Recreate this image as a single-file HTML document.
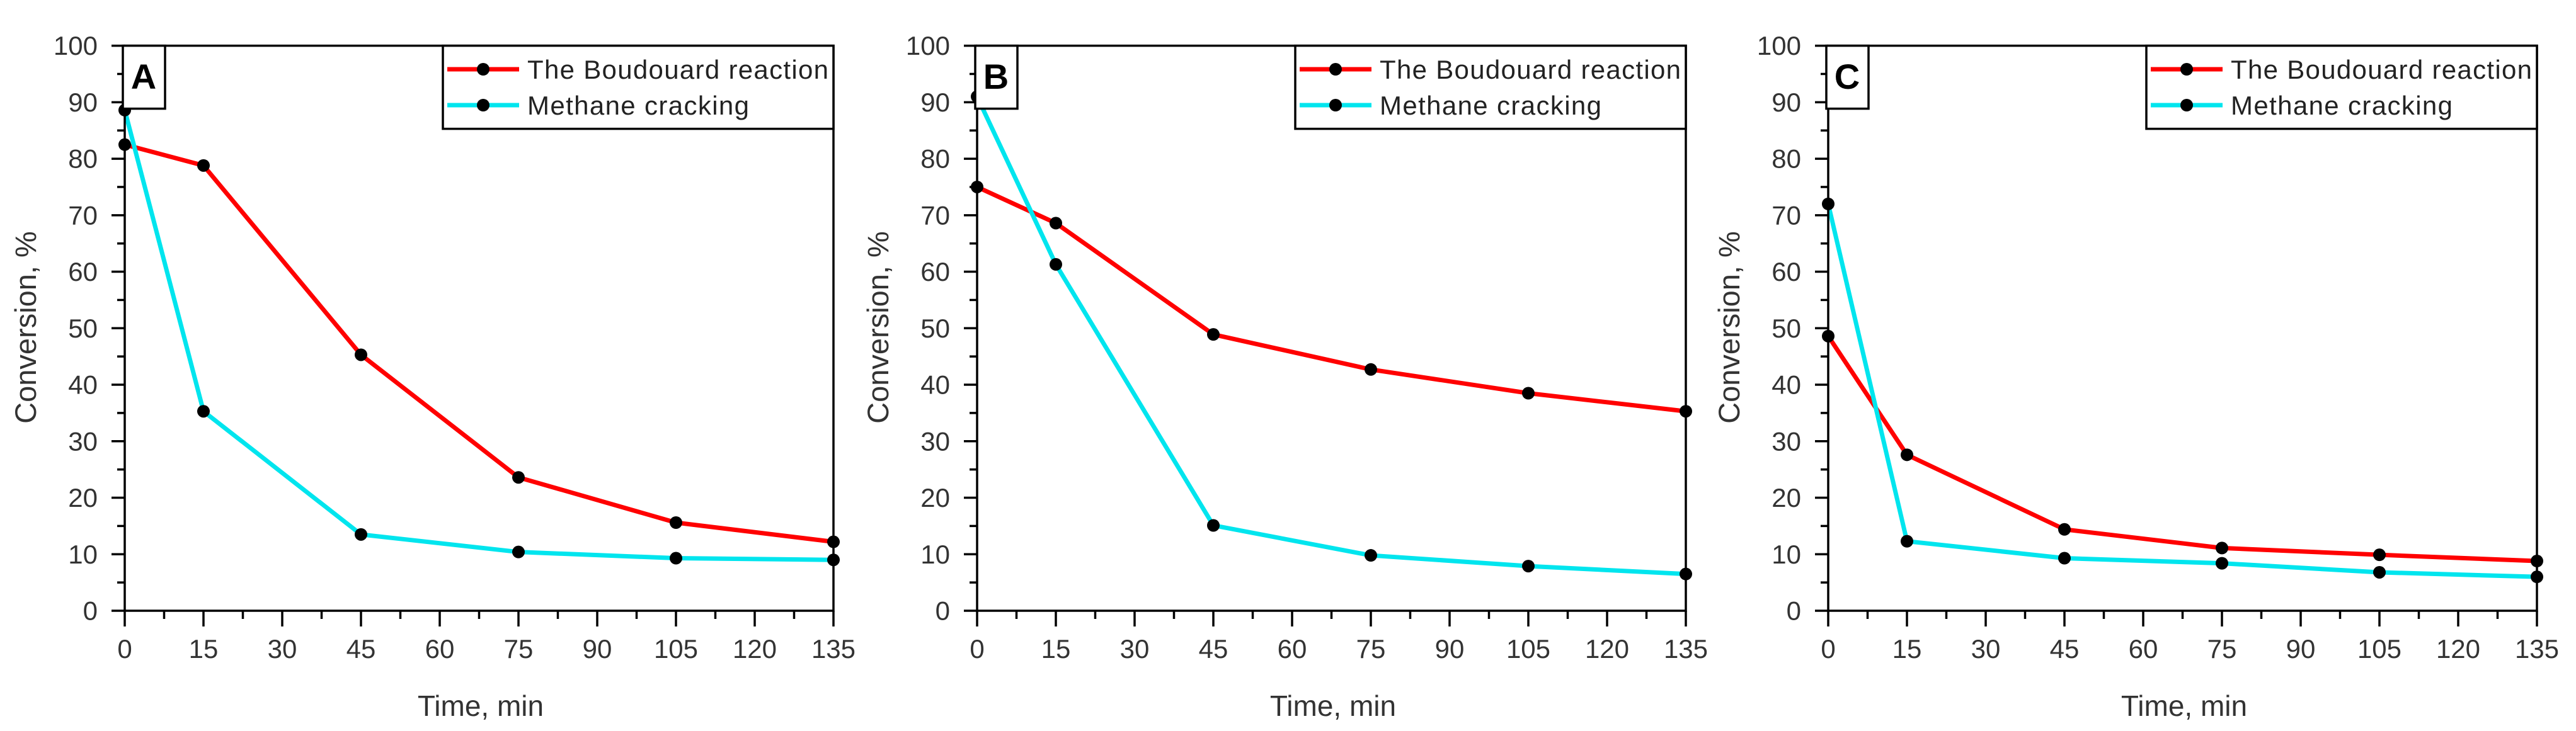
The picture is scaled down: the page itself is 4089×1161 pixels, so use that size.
<!DOCTYPE html>
<html><head><meta charset="utf-8"><style>
html,body{margin:0;padding:0;background:#fff;}
svg{display:block;font-family:"Liberation Sans",Arial,sans-serif;}
</style></head><body>
<svg id="fig" width="4089" height="1161" viewBox="0 0 4089 1161" xmlns="http://www.w3.org/2000/svg"></svg>
<script>
const times = [0, 15, 45, 75, 105, 135];
const panelLabels = ["A", "B", "C"];
const boudouardA = [82.5, 78.8, 45.3, 23.6, 15.6, 12.2];
const crackingA = [88.6, 35.3, 13.5, 10.4, 9.3, 9.0];
const boudouardB = [75.0, 68.6, 48.9, 42.7, 38.5, 35.3];
const crackingB = [91.0, 61.3, 15.1, 9.8, 7.9, 6.5];
const boudouardC = [48.6, 27.6, 14.4, 11.1, 9.9, 8.8];
const crackingC = [72.0, 12.3, 9.3, 8.4, 6.8, 6.0];
const xTickLabels = [0, 15, 30, 45, 60, 75, 90, 105, 120, 135];
const yTickLabels = [0, 10, 20, 30, 40, 50, 60, 70, 80, 90, 100];
const seriesNames = ["The Boudouard reaction", "Methane cracking"];

const NS = "http://www.w3.org/2000/svg";
const svg = document.getElementById("fig");
function mk(tag, attrs, parent) {
  const e = document.createElementNS(NS, tag);
  for (const k in attrs) e.setAttribute(k, attrs[k]);
  (parent || svg).appendChild(e);
  return e;
}
const panelX = [198, 1551, 2902];
const plotW = 1125, yTop = 72.6, yBot = 970;
const panelData = [[boudouardA, crackingA], [boudouardB, crackingB], [boudouardC, crackingC]];
const colors = ["#ff0000", "#00e5ee"];

panelData.forEach((series, p) => {
  const x0 = panelX[p];
  const g = mk("g", {});
  
  
  const xs = v => x0 + (v - 0) / 135 * plotW;
  const ys = v => yBot - v / 100 * (yBot - yTop);

  // series
  series.forEach((vals, s) => {
    const pts = times.map((t, i) => xs(t) + "," + ys(vals[i])).join(" ");
    const pl = mk("polyline", {points: pts, fill: "none", stroke: colors[s], "stroke-width": 7, "stroke-linejoin": "round"}, g);
    
    
  });
  series.forEach((vals, s) => {
    times.forEach((t, i) => {
      const c = mk("circle", {cx: xs(t), cy: ys(vals[i]), r: 10, fill: "#000"}, g);
      
      
    });
  });

  // frame
  const fr = mk("rect", {x: x0, y: yTop, width: plotW, height: yBot - yTop, fill: "none", stroke: "#000", "stroke-width": 3.5}, g);
  
  

  // y ticks
  yTickLabels.forEach(v => {
    mk("line", {x1: x0 - 21, x2: x0, y1: ys(v), y2: ys(v), stroke: "#000", "stroke-width": 3.5}, g);
    if (v < 100) mk("line", {x1: x0 - 12, x2: x0, y1: ys(v + 5), y2: ys(v + 5), stroke: "#000", "stroke-width": 3.5}, g);
    const t = mk("text", {x: x0 - 43, y: ys(v), "text-anchor": "end", "dominant-baseline": "central", "font-size": 42, fill: "#333"}, g);
    t.textContent = v;
    
    
  });
  // x ticks
  xTickLabels.forEach(v => {
    mk("line", {x1: xs(v), x2: xs(v), y1: yBot, y2: yBot + 25, stroke: "#000", "stroke-width": 3.5}, g);
    if (v < 135) mk("line", {x1: xs(v + 7.5), x2: xs(v + 7.5), y1: yBot, y2: yBot + 13, stroke: "#000", "stroke-width": 3.5}, g);
    const t = mk("text", {x: xs(v), y: 1045, "text-anchor": "middle", "font-size": 42, fill: "#333"}, g);
    t.textContent = v;
    
    
  });

  // axis titles
  const xt = mk("text", {x: x0 + 565, y: 1137, "text-anchor": "middle", "font-size": 46, fill: "#333"}, g);
  xt.textContent = "Time, min";
  
  
  const yt = mk("text", {x: 0, y: 0, transform: `translate(${x0 - 141},520) rotate(-90)`, "text-anchor": "middle", "font-size": 47, fill: "#333"}, g);
  yt.textContent = "Conversion, %";
  
  

  // panel label box
  const lb = mk("rect", {x: x0 - 3, y: yTop, width: 67, height: 100, fill: "#fff", stroke: "#000", "stroke-width": 3.5}, g);
  
  
  const lt = mk("text", {x: x0 + 30, y: 141, "text-anchor": "middle", "font-size": 56, "font-weight": "bold", fill: "#000"}, g);
  lt.textContent = panelLabels[p];
  
  

  // legend
  const lg = mk("g", {}, g);
  
  
  mk("rect", {x: x0 + 505, y: yTop, width: plotW - 505, height: 132, fill: "#fff", stroke: "#000", "stroke-width": 3.5}, lg);
  seriesNames.forEach((nm, s) => {
    const ly = s === 0 ? 110 : 167;
    const e = mk("g", {}, lg);
    
    
    mk("line", {x1: x0 + 512, x2: x0 + 626, y1: ly, y2: ly, stroke: colors[s], "stroke-width": 7}, e);
    mk("circle", {cx: x0 + 569, cy: ly, r: 10, fill: "#000"}, e);
    const tx = mk("text", {x: x0 + 639, y: ly + 15, "font-size": 42, fill: "#222"}, e);
    tx.textContent = nm;
    if (s === 0) tx.setAttribute("textLength", 478);
    else tx.setAttribute("textLength", 352);
  });
});
</script>
</body></html>
